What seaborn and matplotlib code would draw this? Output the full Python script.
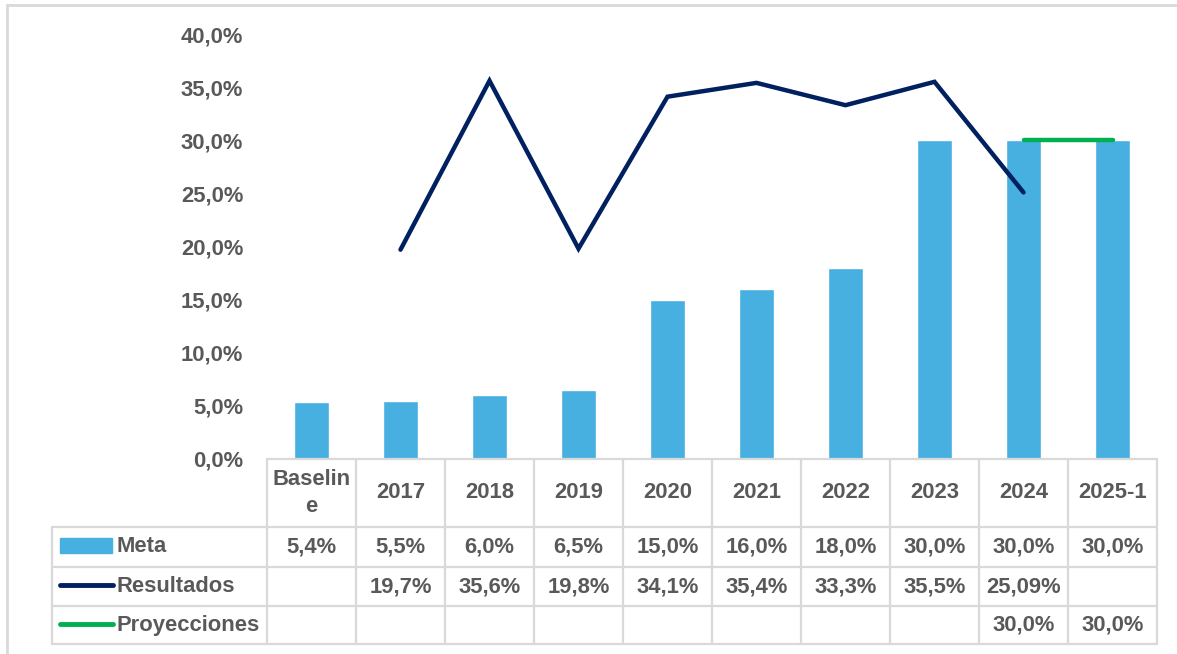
import numpy as np
import pandas as pd
import matplotlib
matplotlib.use("Agg")
import matplotlib.pyplot as plt
from matplotlib.lines import Line2D
from matplotlib.patches import Rectangle
import seaborn as sns

categories = ["Baselin\ne", "2017", "2018", "2019", "2020", "2021", "2022", "2023", "2024", "2025-1"]
meta = [5.4, 5.5, 6.0, 6.5, 15.0, 16.0, 18.0, 30.0, 30.0, 30.0]
resultados = [np.nan, 19.7, 35.6, 19.8, 34.1, 35.4, 33.3, 35.5, 25.09, np.nan]
proyecciones = [np.nan, np.nan, np.nan, np.nan, np.nan, np.nan, np.nan, np.nan, 30.0, 30.0]
meta_labels = ["5,4%", "5,5%", "6,0%", "6,5%", "15,0%", "16,0%", "18,0%", "30,0%", "30,0%", "30,0%"]
res_labels = ["", "19,7%", "35,6%", "19,8%", "34,1%", "35,4%", "33,3%", "35,5%", "25,09%", ""]
proy_labels = ["", "", "", "", "", "", "", "", "30,0%", "30,0%"]
yticks = [0, 5, 10, 15, 20, 25, 30, 35, 40]
series_names = ["Meta", "Resultados", "Proyecciones"]

BAR_C = "#47B0E1"
NAVY = "#002060"
GREEN = "#00B050"
TXT = "#595959"
GRID = "#D9D9D9"
FS = 15.8

sns.set_style("white")
plt.rcParams['font.family'] = ['Liberation Sans Narrow', 'Liberation Sans', 'DejaVu Sans']

W, H = 1177, 654
fig = plt.figure(figsize=(W / 100, H / 100), dpi=100)

def fx(px):
    return px / W

def fy(py):
    return 1 - py / H

ax_l, ax_r, ax_b, ax_t = 267, 1157, 459, 34
ax = fig.add_axes([fx(ax_l), fy(ax_b), fx(ax_r - ax_l), fy(ax_t) - fy(ax_b)])

df = pd.DataFrame({"cat": categories, "meta": meta})
sns.barplot(data=df, x="cat", y="meta", color=BAR_C, width=0.4, saturation=1, ax=ax)

xs = np.arange(len(categories))
dres = pd.DataFrame({"x": xs, "y": resultados}).dropna()
sns.lineplot(data=dres, x="x", y="y", color=NAVY, lw=3.2, ax=ax,
             solid_capstyle="round", solid_joinstyle="miter")
dpro = pd.DataFrame({"x": xs, "y": proyecciones}).dropna()
sns.lineplot(data=dpro, x="x", y="y", color=GREEN, lw=3.2, ax=ax,
             solid_capstyle="round")

ax.set_xlim(-0.5, len(categories) - 0.5)
ax.set_ylim(0, 40)
ax.set_yticks(yticks)
ax.set_yticklabels([f"{v:.1f}%".replace(".", ",") for v in yticks],
                   fontsize=FS, fontweight="bold", color=TXT)
ax.tick_params(axis="y", length=0, pad=17)
ax.set_xticks([])
ax.set_xlabel("")
ax.set_ylabel("")
for s in ax.spines.values():
    s.set_visible(False)
ax.grid(False)

# Outer frame
fig.add_artist(Line2D([fx(7), 1], [fy(5), fy(5)], color=GRID, lw=2))
fig.add_artist(Line2D([fx(7), fx(7)], [fy(5), 0], color=GRID, lw=2))

# Data table
col_w = (ax_r - ax_l) / len(categories)
col_edges = [ax_l + i * col_w for i in range(len(categories) + 1)]
row_edges = [459, 527, 567, 606, 644]
leg_l = 52

fig.add_artist(Line2D([fx(ax_l), fx(ax_r)], [fy(459), fy(459)], color=GRID, lw=1.6))
for r in row_edges[1:]:
    fig.add_artist(Line2D([fx(leg_l), fx(ax_r)], [fy(r), fy(r)], color=GRID, lw=1.6))
for c in col_edges:
    fig.add_artist(Line2D([fx(c), fx(c)], [fy(459), fy(644)], color=GRID, lw=1.6))
fig.add_artist(Line2D([fx(leg_l), fx(leg_l)], [fy(527), fy(644)], color=GRID, lw=1.6))

tkw = dict(fontsize=FS, fontweight="bold", color=TXT, ha="center", va="center")
for i, cat in enumerate(categories):
    cx = fx((col_edges[i] + col_edges[i + 1]) / 2)
    fig.text(cx, fy((459 + 527) / 2), cat, linespacing=1.4, **tkw)
    fig.text(cx, fy((527 + 567) / 2), meta_labels[i], **tkw)
    fig.text(cx, fy((567 + 606) / 2), res_labels[i], **tkw)
    fig.text(cx, fy((606 + 644) / 2), proy_labels[i], **tkw)

# legend keys
fig.add_artist(Rectangle((fx(60), fy(553)), fx(112 - 60), fy(538) - fy(553), color=BAR_C))
fig.add_artist(Line2D([fx(60), fx(113)], [fy(585), fy(585)], color=NAVY, lw=3.5, solid_capstyle="round"))
fig.add_artist(Line2D([fx(60), fx(113)], [fy(624), fy(624)], color=GREEN, lw=3.5, solid_capstyle="round"))
lkw = dict(fontsize=FS, fontweight="bold", color=TXT, ha="left", va="center")
for name, r0, r1 in zip(series_names, row_edges[1:4], row_edges[2:5]):
    fig.text(fx(116), fy((r0 + r1) / 2), name, **lkw)

fig.savefig("out.png", dpi=100)
